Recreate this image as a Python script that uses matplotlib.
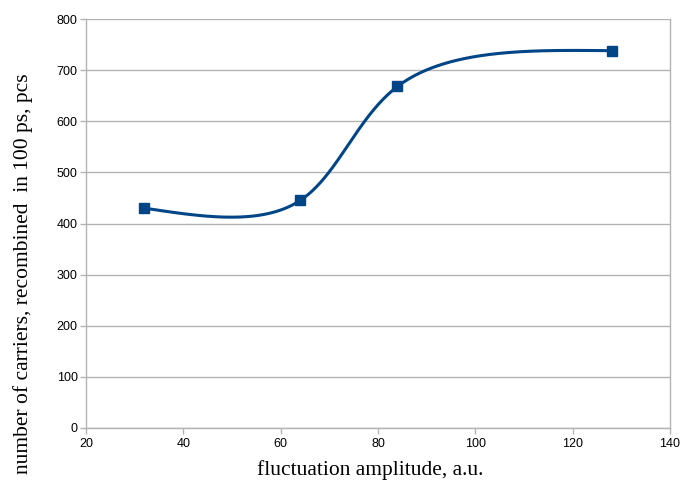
import numpy as np
import matplotlib
matplotlib.use("Agg")
import matplotlib.pyplot as plt

amplitude = [32, 64, 84, 128]
carriers = [430, 445, 668, 738]
x_ticks = [20, 40, 60, 80, 100, 120, 140]
y_ticks = [0, 100, 200, 300, 400, 500, 600, 700, 800]

W, H = 683, 491
fig = plt.figure(figsize=(W / 100, H / 100), dpi=100)
L, R, T, B = 86, 670, 19, 428
ax = fig.add_axes([L / W, (H - B) / H, (R - L) / W, (B - T) / H])
ax.set_xlim(20, 140)
ax.set_ylim(0, 800)


def natural_spline(t, v, tt):
    n = len(t)
    h = np.diff(t)
    A = np.zeros((n, n))
    rhs = np.zeros(n)
    A[0, 0] = 1
    A[-1, -1] = 1
    for i in range(1, n - 1):
        A[i, i - 1] = h[i - 1]
        A[i, i] = 2 * (h[i - 1] + h[i])
        A[i, i + 1] = h[i]
        rhs[i] = 3 * ((v[i + 1] - v[i]) / h[i] - (v[i] - v[i - 1]) / h[i - 1])
    c = np.linalg.solve(A, rhs)
    out = np.empty_like(tt)
    for k, x in enumerate(tt):
        i = min(max(np.searchsorted(t, x, side="right") - 1, 0), n - 2)
        dx = x - t[i]
        b = (v[i + 1] - v[i]) / h[i] - h[i] * (2 * c[i] + c[i + 1]) / 3
        d = (c[i + 1] - c[i]) / (3 * h[i])
        out[k] = v[i] + b * dx + c[i] * dx ** 2 + d * dx ** 3
    return out


# smooth parametric (centripetal) spline through the points, in display space
xs = np.array(amplitude, float)
ys = np.array(carriers, float)
sx = (R - L) / 120.0
sy = (B - T) / 800.0
px = (xs - 20) * sx
py = ys * sy
t = np.concatenate([[0], np.cumsum(np.sqrt(np.hypot(np.diff(px), np.diff(py))))])
tt = np.linspace(0, t[-1], 500)
cx = natural_spline(t, px, tt) / sx + 20
cy = natural_spline(t, py, tt) / sy

col = "#004586"
ax.plot(cx, cy, color=col, lw=2.2, zorder=3)
ax.plot(xs, ys, "s", color=col, ms=7.5, zorder=4)

ax.set_xticks(x_ticks)
ax.set_yticks(y_ticks)
ax.grid(axis="y", color="#b3b3b3", lw=1)
ax.set_axisbelow(True)
for s in ax.spines.values():
    s.set_color("#b3b3b3")
    s.set_linewidth(1)
ax.spines["top"].set_visible(False)
ax.tick_params(colors="#b3b3b3", length=4, width=1, labelcolor="black",
               labelsize=9)
for lab in ax.get_xticklabels() + ax.get_yticklabels():
    lab.set_family("Liberation Sans")
ax.tick_params(axis="x", pad=3)
ax.tick_params(axis="y", pad=2)

fig.text(370 / W, 1 - 470 / H, "fluctuation amplitude, a.u.",
         family="Liberation Serif", fontsize=15.5, ha="center", va="center")
fig.text(23 / W, 1 - 274 / H, "number of carriers, recombined  in 100 ps, pcs",
         family="Liberation Serif", fontsize=15.5, ha="center", va="center",
         rotation=90)

fig.savefig("out.png", dpi=100)
